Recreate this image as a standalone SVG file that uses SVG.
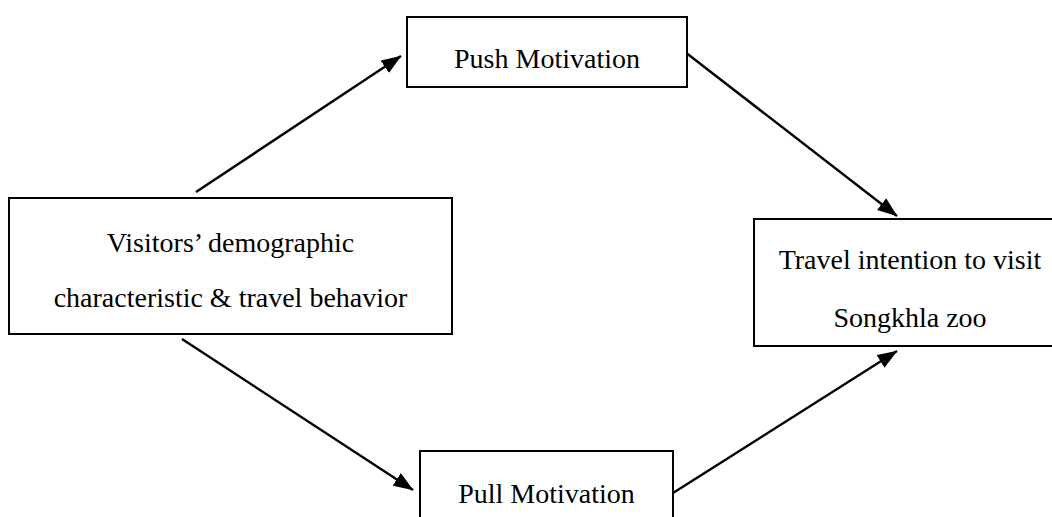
<svg xmlns="http://www.w3.org/2000/svg" width="1052" height="517" viewBox="0 0 1052 517">
<style>
.box{fill:#fff;stroke:#000;stroke-width:2}
.lbl{font-family:"Liberation Serif","Times New Roman",serif;font-size:28px;fill:#000;text-anchor:middle}
.conn{stroke:#000;stroke-width:2.4;fill:none;marker-end:url(#ah)}
</style>
<defs>
<marker id="ah" markerUnits="userSpaceOnUse" markerWidth="21" markerHeight="15" refX="19.5" refY="7.5" orient="auto">
<path d="M0,0 L20,7.5 L0,15 z" fill="#000"/>
</marker>
</defs>
<rect width="1052" height="517" fill="#fff"/>
<g id="connectors">
<line class="conn" x1="196" y1="192" x2="401" y2="56"/>
<line class="conn" x1="685" y1="52" x2="897" y2="216"/>
<line class="conn" x1="182" y1="339" x2="413" y2="490"/>
<line class="conn" x1="673" y1="493" x2="897" y2="351"/>
</g>
<g id="push">
<rect class="box" x="407" y="17" width="280" height="70"/>
<text class="lbl" x="547" y="68">Push Motivation</text>
</g>
<g id="visitors">
<rect class="box" x="9" y="198" width="443" height="136"/>
<text class="lbl" x="230.5" y="252">Visitors’ demographic</text>
<text class="lbl" x="230.5" y="307">characteristic &amp; travel behavior</text>
</g>
<g id="intention">
<rect class="box" x="754" y="219" width="312" height="127"/>
<text class="lbl" x="910" y="269">Travel intention to visit</text>
<text class="lbl" x="910" y="327">Songkhla zoo</text>
</g>
<g id="pull">
<rect class="box" x="420" y="451" width="253" height="80"/>
<text class="lbl" x="546.5" y="503">Pull Motivation</text>
</g>
</svg>
